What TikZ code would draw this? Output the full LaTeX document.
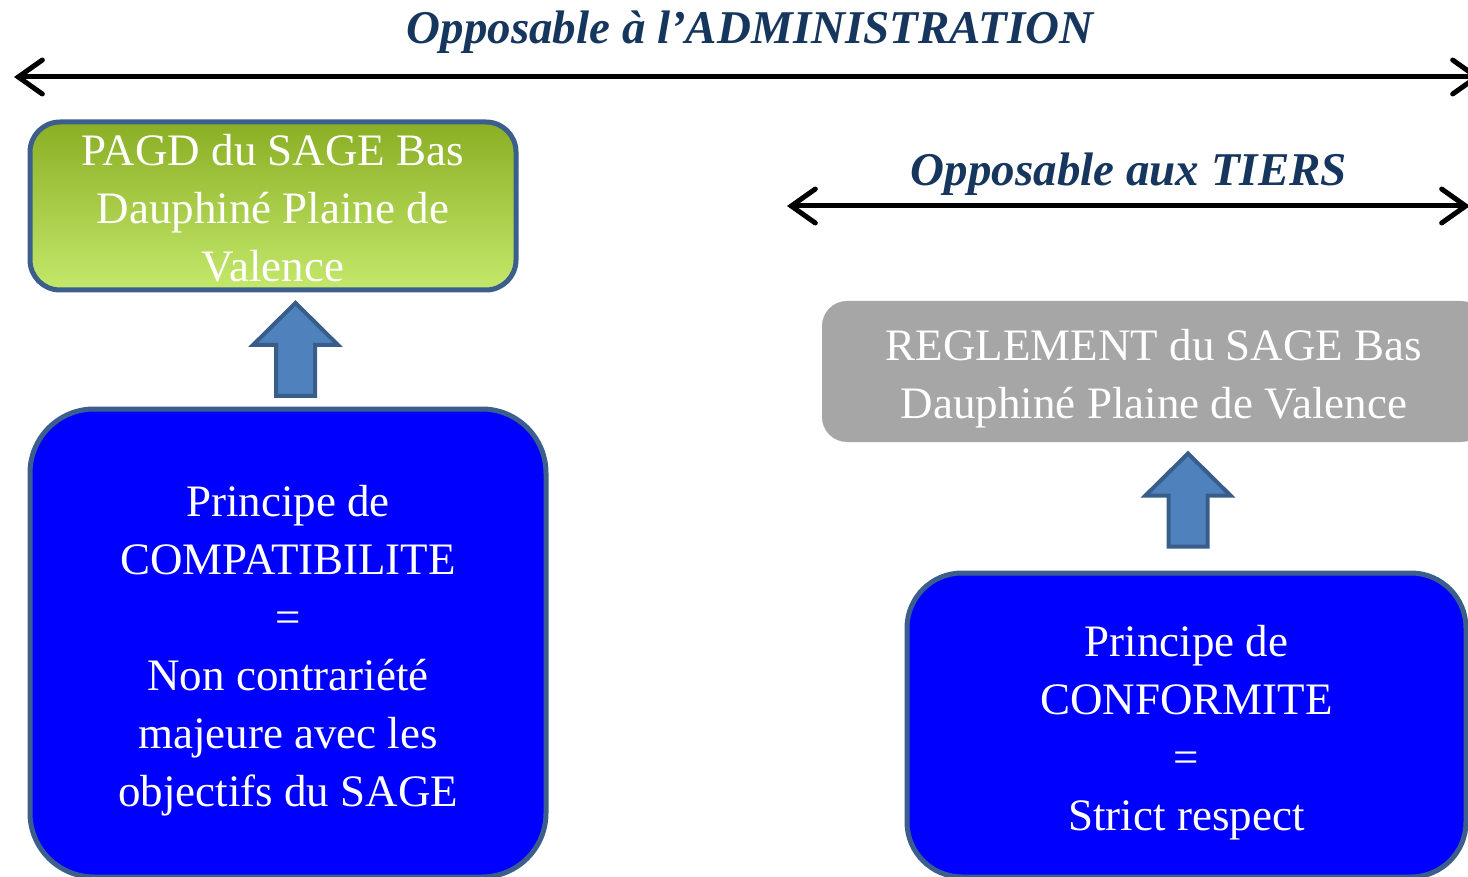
\documentclass[tikz,border=0pt]{standalone}
\usepackage{fontspec}
\setmainfont{Liberation Serif}
\usetikzlibrary{arrows.meta,calc}

\definecolor{titleblue}{HTML}{17365D}
\definecolor{boxborder}{HTML}{3B5E8C}
\definecolor{arrowfill}{HTML}{4F81BD}
\definecolor{arrowborder}{HTML}{385D8A}
\definecolor{pagdtop}{HTML}{8AAF24}
\definecolor{pagdbottom}{HTML}{C4E86B}
\definecolor{reglgray}{HTML}{A6A6A6}
\definecolor{principeblue}{HTML}{0000FF}

\tikzset{
  scopearrow/.style={draw=black, line width=2.5pt,
    {Straight Barb[length=12pt,width=17pt,line cap=round]}-{Straight Barb[length=12pt,width=17pt,line cap=round]}},
  scopetitle/.style={text=titleblue, font=\bfseries\itshape\fontsize{23.5}{28}\selectfont},
  boxtext/.style={text=white, align=center, font=\fontsize{22.5}{29}\selectfont},
  blockarrow/.style={fill=arrowfill, draw=arrowborder, line width=2pt, line join=miter}
}

\begin{document}
\begin{tikzpicture}[x=0.5pt, y=-0.5pt, inner sep=0pt, outer sep=0pt]
\useasboundingbox (0,0) rectangle (1468,877);

\coordinate (admL) at (14,77);
\coordinate (admR) at (1481,77);
\draw[scopearrow] (admL) -- (admR);
\node[scopetitle] (admin) at (750,32) {Opposable à l’ADMINISTRATION};

\coordinate (tiersL) at (787,206);
\coordinate (tiersR) at (1470,206);
\draw[scopearrow] (tiersL) -- (tiersR);
\node[scopetitle] (tiers) at (1129,174) {Opposable aux TIERS};

\node[boxtext, draw=boxborder, line width=2.5pt, rounded corners=15pt,
  top color=pagdtop, bottom color=pagdbottom,
  minimum width=243pt, minimum height=84pt] (pagd) at (273,206)
  {\rule{0pt}{17.5pt}PAGD du SAGE Bas\\Dauphiné Plaine de\\Valence};

\node[boxtext, draw=boxborder, fill=principeblue, line width=2.5pt, rounded corners=32pt,
  minimum width=258pt, minimum height=234pt] (compat) at (288,643)
  {\rule{0pt}{23.5pt}Principe de\\COMPATIBILITE\\=\\Non contrariété\\majeure avec les\\objectifs du SAGE};

\node[boxtext, fill=reglgray, rounded corners=12.5pt,
  minimum width=332pt, minimum height=70.5pt] (regl) at (1154,371.5)
  {\rule{0pt}{23pt}REGLEMENT du SAGE Bas\\Dauphiné Plaine de Valence};

\node[boxtext, draw=boxborder, fill=principeblue, line width=2.5pt, rounded corners=27.5pt,
  minimum width=279.5pt, minimum height=152pt] (conform) at (1186.5,725)
  {\rule{0pt}{23.5pt}Principe de\\CONFORMITE\\=\\Strict respect};

\coordinate (up1) at (295.5,349.5);
\path[blockarrow] ($(up1)+(0,-46.5)$) -- ++(42.5,42) -- ++(-23,0) -- ++(0,51)
  -- ++(-39,0) -- ++(0,-51) -- ++(-23,0) -- cycle;

\coordinate (up2) at (1188,500);
\path[blockarrow] ($(up2)+(0,-46.5)$) -- ++(42.5,42) -- ++(-23,0) -- ++(0,51)
  -- ++(-39,0) -- ++(0,-51) -- ++(-23,0) -- cycle;

\end{tikzpicture}
\end{document}
